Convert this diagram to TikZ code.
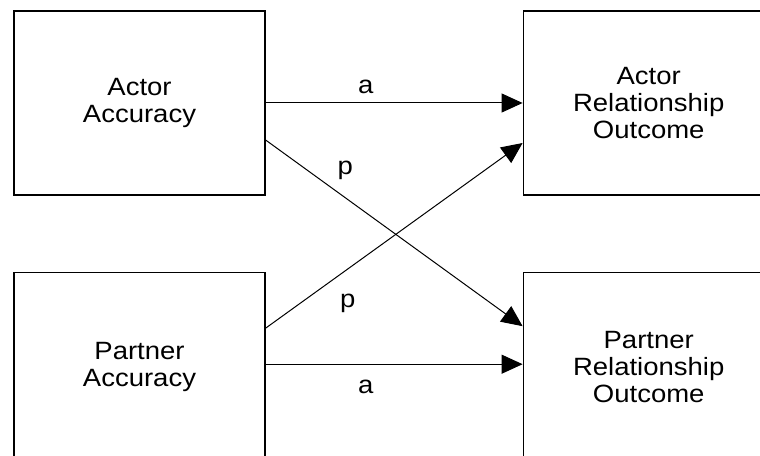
\documentclass[tikz,border=0pt]{standalone}
\usepackage{fontspec}
\setmainfont{Liberation Sans}
\newfontfamily\boxfont[FakeStretch=1.1]{Liberation Sans}
\usetikzlibrary{arrows.meta, positioning}

\begin{document}
\begin{tikzpicture}[
    x=1pt, y=1pt,
    node distance=76pt and 257pt,
    box/.style={draw, line width=1.2pt, align=center, minimum width=251pt, minimum height=184pt,
      font=\boxfont\fontsize{25pt}{27pt}\selectfont},
    tall/.style={minimum height=190pt},
    lbl/.style={inner sep=2pt, font=\boxfont\fontsize{25pt}{27pt}\selectfont},
    arrow/.style={-{Triangle[length=21pt, width=19pt]}, line width=1pt}
]
\useasboundingbox (0,0) rectangle (760,455);
\clip (0,0) rectangle (760,455);

% Nodes
\node[box] (AA) at (139.5,352) {Actor\\Accuracy};
\node[box] (ARO) [right=of AA] {Actor\\Relationship\\Outcome};
\node[box, tall] (PA) [below=of AA] {Partner\\Accuracy};
\node[box, tall] (PRO) [right=of PA] {Partner\\Relationship\\Outcome};

% Arrows
\draw[arrow] (AA.east) -- node[lbl, pos=.39, above=7pt] {a} (ARO.west);
\draw[arrow] ([yshift=-37pt]AA.east) -- node[lbl, pos=.31, above=16pt] {p} ([yshift=41pt]PRO.west);
\draw[arrow] ([yshift=39pt]PA.east) -- node[lbl, pos=.32, below=23pt] {p} ([yshift=-40pt]ARO.west);
\draw[arrow] ([yshift=3pt]PA.east) -- node[lbl, pos=.39, below=13pt] {a} ([yshift=3pt]PRO.west);

\end{tikzpicture}
\end{document}
